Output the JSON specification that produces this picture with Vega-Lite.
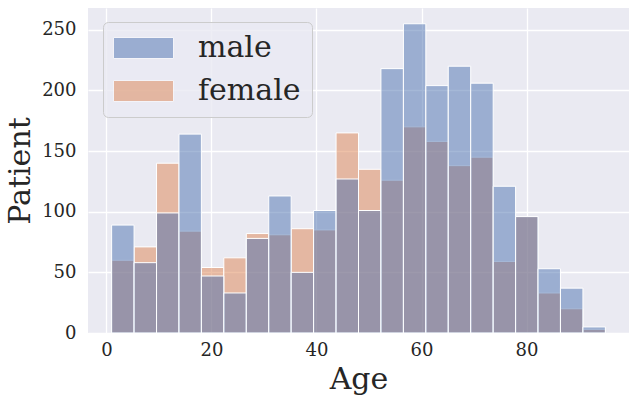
{
  "$schema": "https://vega.github.io/schema/vega-lite/v6.json",
  "width": 541,
  "height": 325,
  "autosize": "none",
  "padding": {"left": 88, "top": 8, "right": 6, "bottom": 68},
  "background": "white",
  "config": {
    "font": "DejaVu Serif",
    "view": {"fill": "#eaeaf2", "stroke": null},
    "axis": {
      "domain": false,
      "ticks": false,
      "gridColor": "white",
      "gridWidth": 1.3,
      "labelFont": "DejaVu Serif",
      "labelFontSize": 18,
      "labelColor": "#262626",
      "titleFont": "DejaVu Serif",
      "titleFontSize": 30,
      "titleFontWeight": "normal",
      "titleColor": "#262626"
    }
  },
  "data": {
    "values": [
      {"sex": "female", "start": 1.0, "end": 5.27, "count": 60},
      {"sex": "female", "start": 5.27, "end": 9.55, "count": 71},
      {"sex": "female", "start": 9.55, "end": 13.82, "count": 140},
      {"sex": "female", "start": 13.82, "end": 18.09, "count": 84},
      {"sex": "female", "start": 18.09, "end": 22.36, "count": 54},
      {"sex": "female", "start": 22.36, "end": 26.64, "count": 62},
      {"sex": "female", "start": 26.64, "end": 30.91, "count": 82},
      {"sex": "female", "start": 30.91, "end": 35.18, "count": 81},
      {"sex": "female", "start": 35.18, "end": 39.45, "count": 86},
      {"sex": "female", "start": 39.45, "end": 43.73, "count": 85},
      {"sex": "female", "start": 43.73, "end": 48.0, "count": 165},
      {"sex": "female", "start": 48.0, "end": 52.27, "count": 135},
      {"sex": "female", "start": 52.27, "end": 56.55, "count": 126},
      {"sex": "female", "start": 56.55, "end": 60.82, "count": 170},
      {"sex": "female", "start": 60.82, "end": 65.09, "count": 158},
      {"sex": "female", "start": 65.09, "end": 69.36, "count": 138},
      {"sex": "female", "start": 69.36, "end": 73.64, "count": 145},
      {"sex": "female", "start": 73.64, "end": 77.91, "count": 59},
      {"sex": "female", "start": 77.91, "end": 82.18, "count": 96},
      {"sex": "female", "start": 82.18, "end": 86.45, "count": 33},
      {"sex": "female", "start": 86.45, "end": 90.73, "count": 20},
      {"sex": "female", "start": 90.73, "end": 95.0, "count": 3},
      {"sex": "male", "start": 1.0, "end": 5.27, "count": 89},
      {"sex": "male", "start": 5.27, "end": 9.55, "count": 58},
      {"sex": "male", "start": 9.55, "end": 13.82, "count": 99},
      {"sex": "male", "start": 13.82, "end": 18.09, "count": 164},
      {"sex": "male", "start": 18.09, "end": 22.36, "count": 47},
      {"sex": "male", "start": 22.36, "end": 26.64, "count": 33},
      {"sex": "male", "start": 26.64, "end": 30.91, "count": 78},
      {"sex": "male", "start": 30.91, "end": 35.18, "count": 113},
      {"sex": "male", "start": 35.18, "end": 39.45, "count": 50},
      {"sex": "male", "start": 39.45, "end": 43.73, "count": 101},
      {"sex": "male", "start": 43.73, "end": 48.0, "count": 127},
      {"sex": "male", "start": 48.0, "end": 52.27, "count": 101},
      {"sex": "male", "start": 52.27, "end": 56.55, "count": 218},
      {"sex": "male", "start": 56.55, "end": 60.82, "count": 255},
      {"sex": "male", "start": 60.82, "end": 65.09, "count": 204},
      {"sex": "male", "start": 65.09, "end": 69.36, "count": 220},
      {"sex": "male", "start": 69.36, "end": 73.64, "count": 206},
      {"sex": "male", "start": 73.64, "end": 77.91, "count": 121},
      {"sex": "male", "start": 77.91, "end": 82.18, "count": 96},
      {"sex": "male", "start": 82.18, "end": 86.45, "count": 53},
      {"sex": "male", "start": 86.45, "end": 90.73, "count": 37},
      {"sex": "male", "start": 90.73, "end": 95.0, "count": 5}
    ]
  },
  "mark": {"type": "bar", "fillOpacity": 0.5, "stroke": "white", "strokeWidth": 1},
  "encoding": {
    "x": {
      "field": "start",
      "type": "quantitative",
      "title": "Age",
      "scale": {"domain": [-3.5, 99.5], "nice": false, "zero": false},
      "axis": {"values": [0, 20, 40, 60, 80], "labelPadding": 8, "titlePadding": 5}
    },
    "x2": {"field": "end"},
    "y": {
      "field": "count",
      "type": "quantitative",
      "title": "Patient",
      "stack": null,
      "scale": {"domain": [0, 268], "nice": false},
      "axis": {"values": [0, 50, 100, 150, 200, 250], "labelPadding": 12, "titlePadding": 6}
    },
    "y2": {"datum": 0},
    "color": {
      "field": "sex",
      "type": "nominal",
      "scale": {"domain": ["male", "female"], "range": ["#4c72b0", "#dd8452"]},
      "legend": {
        "title": null,
        "orient": "none",
        "legendX": 15,
        "legendY": 14,
        "padding": 11,
        "fillColor": "rgba(234,234,242,0.8)",
        "strokeColor": "#cccccc",
        "cornerRadius": 5,
        "symbolType": "M-1.48,-1L4.24,-1L4.24,1L-1.48,1Z",
        "symbolSize": 441,
        "symbolOpacity": 0.5,
        "symbolStrokeColor": "white",
        "symbolStrokeWidth": 1,
        "labelFont": "DejaVu Serif",
        "labelFontSize": 30,
        "labelColor": "#262626",
        "labelOffset": 54,
        "rowPadding": 13
      }
    }
  }
}
